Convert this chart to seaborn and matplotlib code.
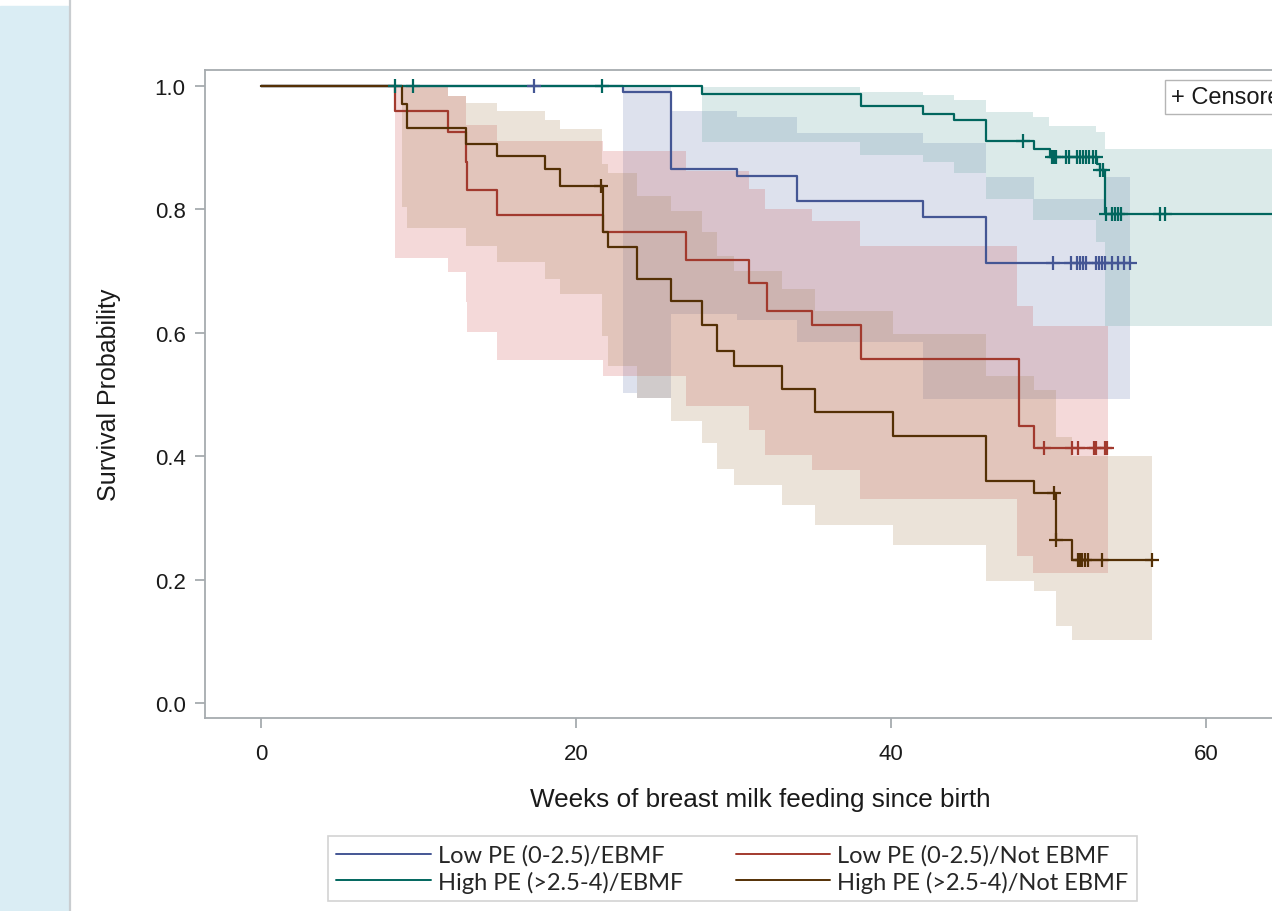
import numpy as np
import pandas as pd
import matplotlib
matplotlib.use("Agg")
import matplotlib.pyplot as plt
from matplotlib.patches import Rectangle
from matplotlib.lines import Line2D
import seaborn as sns

groups = ["Low PE (0-2.5)/EBMF", "Low PE (0-2.5)/Not EBMF",
          "High PE (>2.5-4)/EBMF", "High PE (>2.5-4)/Not EBMF"]
line_cols = ["#445694", "#A23A2E", "#01665E", "#543005"]
fill_cols = ["#6F7EB3", "#D05B5B", "#66A5A0", "#A9865B"]

# KM step curves (time in weeks, survival after step)
blue_t = [0, 23.0, 26.0, 30.2, 34.0, 42.0, 46.0, 55.2]
blue_s = [1.0, 0.990, 0.866, 0.854, 0.814, 0.788, 0.713, 0.713]
red_t = [0, 8.5, 11.9, 13.0, 13.1, 15.0, 21.7, 27.0, 31.0, 32.1, 35.0, 38.1, 48.1, 49.1, 53.7]
red_s = [1.0, 0.959, 0.925, 0.877, 0.831, 0.791, 0.763, 0.718, 0.681, 0.635, 0.613, 0.558, 0.449, 0.413, 0.413]
teal_t = [0, 28.0, 38.1, 42.0, 44.0, 46.0, 49.1, 50.1, 53.1, 53.25, 53.6, 66.0]
teal_s = [1.0, 0.987, 0.968, 0.955, 0.945, 0.911, 0.898, 0.885, 0.874, 0.864, 0.793, 0.793]
brown_t = [0, 8.95, 9.27, 13.0, 15.0, 18.0, 19.0, 21.7, 22.0, 23.9, 26.0, 28.0, 28.95, 30.0,
           33.1, 35.2, 40.1, 46.0, 49.1, 50.45, 51.5, 56.6]
brown_s = [1.0, 0.970, 0.932, 0.906, 0.887, 0.866, 0.838, 0.763, 0.739, 0.687, 0.652, 0.613,
           0.570, 0.546, 0.509, 0.472, 0.433, 0.360, 0.340, 0.264, 0.232, 0.232]

# censored times
blue_c = [17.3, 50.3, 51.4, 51.8, 52.0, 52.2, 52.4, 53.0, 53.2, 53.4, 53.6, 54.0, 54.4, 54.8, 55.2]
red_c = [49.7, 51.5, 51.9, 52.9, 53.0, 53.6, 53.7]
teal_c = [8.5, 9.65, 21.65, 48.4, 50.2, 50.35, 50.5, 51.1, 51.3, 51.8, 52.0, 52.2, 52.4, 52.6,
          52.8, 53.0, 53.3, 53.45, 53.65, 54.0, 54.2, 54.4, 54.6, 57.1, 57.4]
brown_c = [21.6, 50.35, 50.5, 51.9, 52.0, 52.1, 52.3, 52.5, 53.4, 56.6]

# confidence bands
blue_bt = [23.0, 23.9, 26.0, 30.2, 34.0, 42.0, 46.0, 49.1, 53.6, 55.2]
blue_hi = [1.0, 1.0, 0.959, 0.950, 0.924, 0.908, 0.853, 0.817, 0.853, 0.853]
blue_lo = [0.502, 0.494, 0.630, 0.621, 0.585, 0.493, 0.493, 0.493, 0.493, 0.493]
red_bt = [8.5, 11.9, 13.0, 13.1, 15.0, 21.7, 27.0, 31.0, 32.0, 35.0, 38.0, 48.0, 49.0, 53.8]
red_hi = [1.0, 0.984, 0.937, 0.937, 0.911, 0.895, 0.862, 0.833, 0.801, 0.781, 0.741, 0.643, 0.611, 0.611]
red_lo = [0.721, 0.698, 0.650, 0.601, 0.556, 0.530, 0.481, 0.442, 0.402, 0.378, 0.331, 0.238, 0.211, 0.211]
teal_bt = [28.0, 38.0, 42.0, 44.0, 46.0, 49.0, 50.0, 53.0, 53.6, 66.0]
teal_hi = [0.998, 0.990, 0.985, 0.977, 0.958, 0.950, 0.935, 0.925, 0.898, 0.898]
teal_lo = [0.909, 0.888, 0.877, 0.859, 0.817, 0.783, 0.783, 0.747, 0.611, 0.611]
brown_bt = [8.95, 9.27, 11.9, 13.0, 15.0, 18.0, 19.0, 21.65, 22.0, 23.9, 26.0, 28.0, 28.95, 30.0,
            33.1, 35.2, 40.1, 46.0, 49.1, 50.5, 51.5, 56.6]
brown_hi = [1.0, 1.0, 0.984, 0.972, 0.959, 0.945, 0.931, 0.874, 0.859, 0.822, 0.797, 0.763, 0.724,
            0.700, 0.671, 0.635, 0.598, 0.530, 0.507, 0.431, 0.400, 0.400]
brown_lo = [0.804, 0.770, 0.770, 0.741, 0.715, 0.687, 0.663, 0.595, 0.546, 0.494, 0.457, 0.421, 0.379,
            0.353, 0.321, 0.288, 0.256, 0.198, 0.182, 0.125, 0.102, 0.102]

curves = [(blue_t, blue_s), (red_t, red_s), (teal_t, teal_s), (brown_t, brown_s)]
cens = [blue_c, red_c, teal_c, brown_c]
bands = [(blue_bt, blue_lo, blue_hi), (red_bt, red_lo, red_hi),
         (teal_bt, teal_lo, teal_hi), (brown_bt, brown_lo, brown_hi)]

sns.set_theme(style="white")
plt.rcParams["font.family"] = ["Liberation Sans", "DejaVu Sans"]

fig = plt.figure(figsize=(12.72, 9.12), dpi=100)
# left sidebar of the screenshot
fig.patches.append(Rectangle((0, 0), 68 / 1272, 905 / 912, transform=fig.transFigure,
                             color="#daedf4", zorder=0))
fig.add_artist(Line2D([70 / 1272, 70 / 1272], [0, 1], transform=fig.transFigure,
                      color="#c9cdd0", lw=1.6))

ax = fig.add_axes([205 / 1272, 193 / 912, 1095.5 / 1272, 648 / 912])

for (bt, lo, hi), fc in zip(bands, fill_cols):
    ax.fill_between(bt, lo, hi, step="post", color=fc, alpha=0.23, lw=0, zorder=1)

rows = []
for g, (t, s) in zip(groups, curves):
    for a, b in zip(t, s):
        rows.append({"group": g, "week": a, "surv": b})
df = pd.DataFrame(rows)
sns.lineplot(data=df, x="week", y="surv", hue="group", hue_order=groups,
             palette=line_cols, estimator=None, sort=False, drawstyle="steps-post",
             linewidth=1.6, legend=False, ax=ax, zorder=3)

for (t, s), c, col in zip(curves, cens, line_cols):
    idx = np.searchsorted(t, c, side="right") - 1
    yc = np.array(s)[idx]
    sns.scatterplot(x=c, y=yc, marker="+", s=110, color=col, linewidth=1.6, ax=ax, zorder=4)

ax.set_xlim(-3.56, 66.0)
ax.set_ylim(-0.0243, 1.0259)
ax.set_xticks([0, 20, 40, 60])
ax.set_yticks([0.0, 0.2, 0.4, 0.6, 0.8, 1.0])
ax.set_yticklabels(["0.0", "0.2", "0.4", "0.6", "0.8", "1.0"])
for sp in ax.spines.values():
    sp.set_color("#a6abaf")
    sp.set_linewidth(1.3)
ax.tick_params(axis="both", direction="out", length=7, width=1.3, color="#a6abaf",
               labelsize=16, labelcolor="#1a1a1a", left=True, bottom=True)
ax.tick_params(axis="x", pad=11)
ax.tick_params(axis="y", pad=7)
ax.set_xlabel("Weeks of breast milk feeding since birth", fontsize=18.8, color="#1a1a1a", labelpad=15)
ax.xaxis.set_label_coords(0.507, -0.106)
ax.set_ylabel("Survival Probability", fontsize=18, color="#1a1a1a", labelpad=24)

ax.text(57.75, 0.982, "+ Censored", fontsize=17, va="center", ha="left", color="#1a1a1a",
        bbox=dict(boxstyle="square,pad=0.25", fc="white", ec="#b5b5b5", lw=1.0), clip_on=False)

handles = [Line2D([], [], color=line_cols[i], lw=1.4) for i in [0, 2, 1, 3]]
labels = [groups[i] for i in [0, 2, 1, 3]]
leg = fig.legend(handles, labels, ncol=2, loc="center", mode="expand",
                 bbox_to_anchor=(328 / 1272, 10 / 912, 809 / 1272, 65 / 912),
                 prop={"family": ["Lato", "DejaVu Sans"], "size": 17},
                 handlelength=4.0, handletextpad=0.3, labelspacing=0.2,
                 frameon=True, fancybox=False, borderpad=0.35, borderaxespad=0)
leg.get_frame().set_edgecolor("#c8c8c8")
leg.get_frame().set_linewidth(1.2)

fig.savefig("out.png", dpi=100)
